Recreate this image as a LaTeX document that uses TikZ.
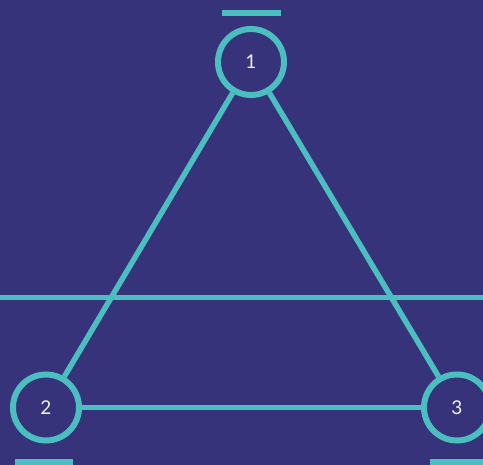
\documentclass[tikz,border=0pt]{standalone}
\usepackage{fontspec}
\setmainfont{Lato}
\definecolor{bgc}{HTML}{36337B}
\definecolor{teal2}{HTML}{4BBFBF}
\definecolor{txt}{HTML}{F2F2F2}
\begin{document}
\begin{tikzpicture}[x=1pt,y=-1pt,
  vert/.style={circle,draw=teal2,line width=6pt,fill=bgc,minimum size=66pt,inner sep=0pt,text=txt,font=\fontsize{19}{19}\selectfont},
  edge/.style={draw=teal2,line width=5.5pt},
  bar/.style={fill=teal2}]
\fill[bgc] (0,0) rectangle (483,465);
\useasboundingbox (0,0) rectangle (483,465);
\begin{scope}
\clip (0,0) rectangle (483,465);
\coordinate (hl) at (0,297.5);
\coordinate (hr) at (483,297.5);
\draw[edge] (hl) -- (hr);
\node[vert] (n1) at (251,62) {1};
\node[vert] (n2) at (46,407.5) {2};
\node[vert] (n3) at (457,407.5) {3};
\draw[edge] (n1) -- (n2);
\draw[edge] (n1) -- (n3);
\draw[edge] (n2) -- (n3);
\fill[bar] (222,10) rectangle (281,16);
\fill[bar] (15,459) rectangle (73,465);
\fill[bar] (430,459) rectangle (483,465);
\end{scope}
\end{tikzpicture}
\end{document}
